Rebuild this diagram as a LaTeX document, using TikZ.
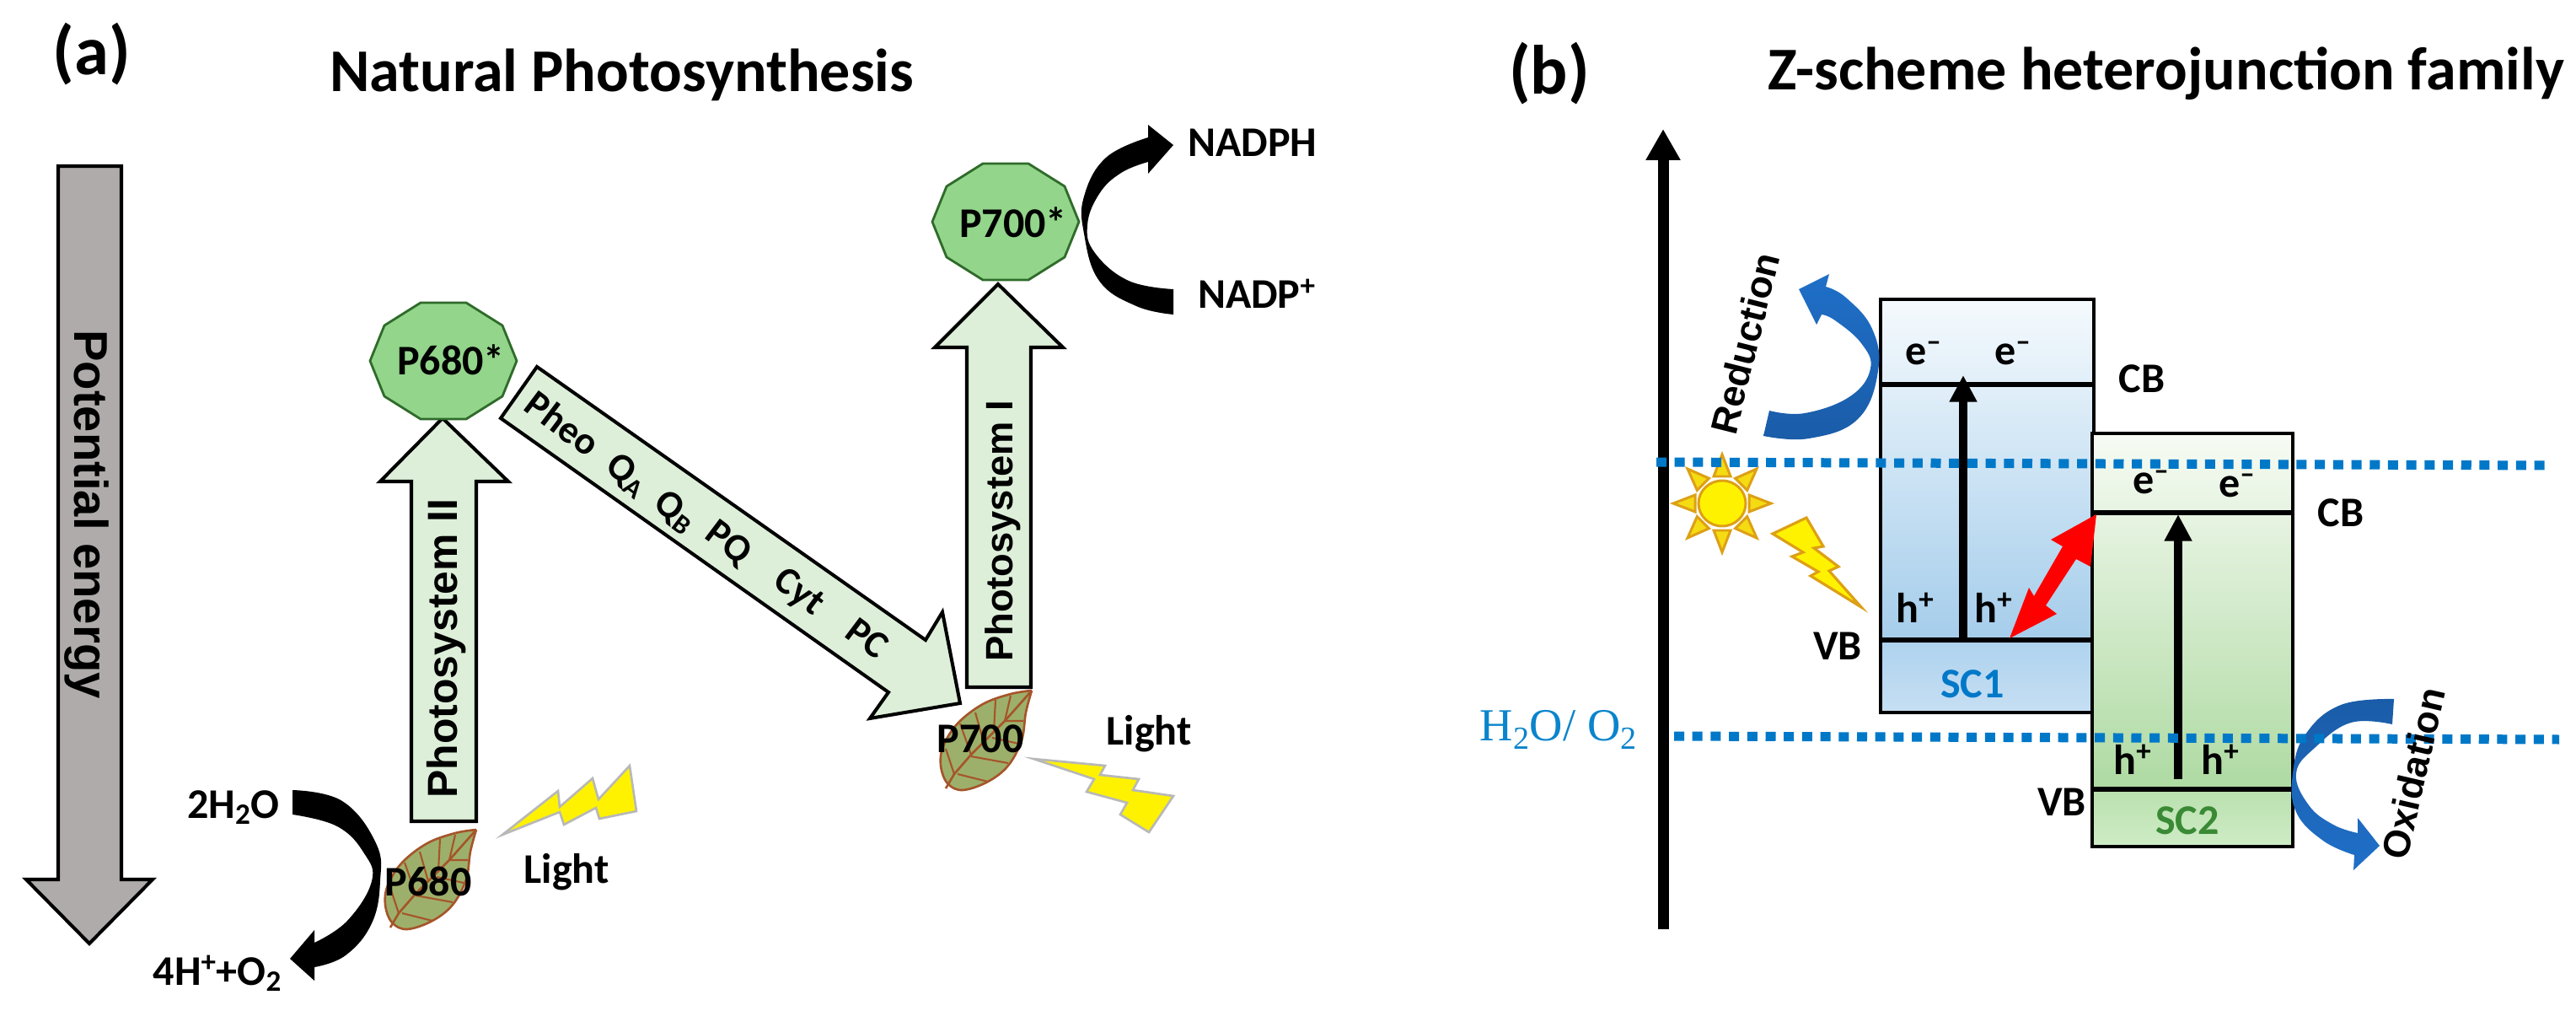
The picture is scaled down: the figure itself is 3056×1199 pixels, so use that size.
\documentclass[tikz,border=0pt]{standalone}
\usepackage{fontspec}
\setmainfont{Carlito}
\newfontfamily\arialf{Liberation Sans}
\newfontfamily\timesf{Liberation Serif}
\usetikzlibrary{arrows.meta}
\definecolor{greyarrow}{HTML}{AFABAB}
\definecolor{palegreen}{HTML}{DDEFD9}
\definecolor{decafill}{HTML}{93D58B}
\definecolor{decaline}{HTML}{2F6B2A}
\definecolor{leaffill}{HTML}{9DB06B}
\definecolor{leafline}{HTML}{A5552A}
\definecolor{boltgrey}{HTML}{B8B8B8}
\definecolor{sunline}{HTML}{DDA015}
\definecolor{dotblue}{HTML}{0078C8}
\definecolor{textblue}{HTML}{0A84CC}
\definecolor{sctwo}{HTML}{3A8A35}
\definecolor{blueup}{HTML}{1F6FC8}
\definecolor{bluedn}{HTML}{1A5CA8}
\newcommand\cfont[1]{\fontsize{#1}{#1}\selectfont}
\newcommand\decagon[2]{\begin{scope}[shift={(#1,#2)}]
  \draw[decastyle] (87,0)--(70,42)--(27,69)--(-27,69)--(-70,42)--(-87,0)--(-70,-42)--(-27,-69)--(27,-69)--(70,-42)--cycle;
\end{scope}}
\newcommand\leafshape[2]{\begin{scope}[shift={(#1,#2)}]
  \fill[leaffill] plot[smooth,tension=.6] coordinates {(565,984)(540,988)(507,1000)(477,1023)(460,1050)(457,1073)(465,1094)(483,1102)(513,1092)(537,1073)(553,1043)(558,1010)(565,984)};
  \draw[leafline,line width=1.5pt] plot[smooth,tension=.6] coordinates {(565,984)(540,988)(507,1000)(477,1023)(460,1050)(457,1073)(465,1094)(483,1102)(513,1092)(537,1073)(553,1043)(558,1010)(565,984)};
  \draw[leafline,line width=1.5pt] (565,984)--(533,1020)--(493,1060)--(473,1083)--(463,1100);
  \draw[leafline,line width=1.2pt] (533,1020)--(540,990) (520,1033)--(522,995) (508,1045)--(498,1010) (493,1060)--(480,1023)
     (473,1083)--(463,1053) (533,1020)--(555,1020) (518,1040)--(550,1047) (493,1062)--(537,1070) (477,1083)--(513,1092);
\end{scope}}
\tikzset{
  x=0.02cm,y=-0.02cm,
  lab/.style={inner sep=0,outer sep=0,anchor=base,font=\cfont{28.5}\bfseries},
  heading/.style={inner sep=0,outer sep=0,anchor=base west,font=\cfont{41}\bfseries},
  panel/.style={inner sep=0,outer sep=0,font=\cfont{47}\bfseries},
  rotlab/.style={inner sep=0,outer sep=0,anchor=base,font=\arialf\bfseries\cfont{28.4}},
  diag/.style={inner sep=0,outer sep=0,rotate=-37,font=\cfont{26}\bfseries},
  blockgreen/.style={draw=black,fill=palegreen,line width=2.3pt,miter limit=10},
  blockgrey/.style={draw=black,fill=greyarrow,line width=2.3pt,miter limit=10},
  decastyle/.style={draw=decaline,fill=decafill,line width=1.6pt,line join=round},
  boltA/.style={draw=boltgrey,fill=yellow,line width=1.5pt},
  boltB/.style={draw=sunline,fill=yellow,line width=1.8pt},
  bandline/.style={line width=2.4pt,draw=black},
  levelline/.style={line width=3pt,draw=black},
  excite/.style={line width=5.7pt,-{Triangle[length=18pt,width=17.6pt]}},
  dots/.style={dotblue,line width=6.26pt,dash pattern=on 6.83pt off 5.52pt},
  ray/.style={draw=sunline,fill=yellow!70!sunline,line width=1.7pt,line join=miter},
  cres/.style={smooth,tension=.7},
}
\begin{document}
\begin{tikzpicture}
\useasboundingbox (0,0) rectangle (3056,1199);
\fill[white] (0,0) rectangle (3056,1199);

% ---------- panel (a)
\node[panel] (pa) at (109,64) {(a)};
\node[heading] (ta) at (391,109) {Natural Photosynthesis};

\draw[blockgrey] (69,197)--(144,197)--(144,1043)--(181,1043)--(106,1119)--(31,1043)--(69,1043)--cycle;
\node[rotlab,rotate=-90,font=\arialf\bfseries\cfont{32}] (pe) at (88,610) {Potential energy};

\draw[blockgreen] (488,974)--(488,571)--(451,571)--(525,496)--(603,571)--(565,571)--(565,974)--cycle;
\node[rotlab,rotate=90] (ps2) at (542,769) {Photosystem II};
\decagon{526}{428}
\node[lab] (p680s) at (535,444) {P680*};

\draw[blockgreen] (1147,815)--(1147,412)--(1109,412)--(1184,337)--(1261,412)--(1223,412)--(1223,815)--cycle;
\node[rotlab,rotate=90,font=\arialf\bfseries\cfont{25.8}] (ps1) at (1201,630) {Photosystem I};
\decagon{1193}{263}
\node[lab] (p700s) at (1202,282) {P700*};

\draw[blockgreen] (637,435)--(1098,759)--(1118,726)--(1139,834)--(1032,852)--(1054,821)--(594,496)--cycle;
\node[diag] (d1) at (668,502) {Pheo};
\node[diag] (d2) at (744,564) {Q\textsubscript{A}};
\node[diag] (d3) at (801,607) {Q\textsubscript{B}};
\node[diag] (d4) at (864,645) {PQ};
\node[diag] (d5) at (947,703) {Cyt};
\node[diag] (d6) at (1029,757) {PC};

\leafshape{0}{0}
\node[lab] (p680) at (508,1062) {P680};
\leafshape{659}{-165}
\node[lab] (p700) at (1163,892) {P700};

\draw[boltA] (596,990)--(662,938)--(664,957)--(703,923)--(710,948)--(747,908)--(755,962)--(711,971)--(707,958)--(669,978)--(664,963)--cycle;
\draw[boltA] (1226,900)--(1311,908)--(1305,919)--(1351,924)--(1344,937)--(1392,944)--(1363,987)--(1329,966)--(1337,952)--(1289,939)--(1298,924)--cycle;

\node[lab] (light1) at (672,1047) {Light};
\node[lab] (light2) at (1363,883) {Light};
\node[lab] (h2o) at (277,970) {2H\textsubscript{2}O};
\node[lab] (hplus) at (258,1168) {4H\textsuperscript{+}+O\textsubscript{2}};
\node[lab] (nadph) at (1486,186) {NADPH};
\node[lab] (nadp) at (1491,366) {NADP\textsuperscript{+}};

% black curved arrows
\fill[black] plot[cres] coordinates {(347,937)(406,950)(446,1000)(451,1045)(441,1095)(410,1133)(373,1147)}
   -- (373,1163) -- (344,1137) -- (373,1103)
   -- plot[cres] coordinates {(373,1118)(412,1092)(441,1045)(432,1012)(400,980)(347,966)} -- cycle;
\fill[black] plot[cres] coordinates {(1392,373)(1348,363)(1304,333)(1286,277)(1286,233)(1312,187)(1362,163)}
   -- (1362,148) -- (1392,172) -- (1362,206)
   -- plot[cres] coordinates {(1362,192)(1330,205)(1304,230)(1290,267)(1299,300)(1339,333)(1392,343)} -- cycle;

% ---------- panel (b)
\node[panel] (pb) at (1838,87) {(b)};
\node[heading] (tb) at (2097,107) {Z-scheme heterojunction family};

\coordinate (axisb) at (1973,1102);
\coordinate (axist) at (1973,153);
\draw[line width=7.4pt,-{Triangle[length=21pt,width=22pt]}] (axisb)--(axist);

% sun
\begin{scope}[shift={(2043,597)}]
  \foreach \a in {0,45,...,315}{
    \draw[ray,rotate=\a] (32,-10)--(58,0)--(32,10)--cycle;
  }
  \draw[draw=sunline,fill=yellow,line width=1.7pt] (0,0) ellipse (28 and 27);
\end{scope}
\draw[boltB] (2103,633)--(2143,614)--(2163,648)--(2152,650)--(2181,672)--(2170,677)--(2208,720)--(2148,683)--(2157,678)--(2126,660)--(2139,655)--cycle;

% SC1 box
\coordinate (s1tl) at (2231,355); \coordinate (s1br) at (2484,845);
\shade[top color={rgb,255:red,245;green,250;blue,253},bottom color={rgb,255:red,165;green,205;blue,235}] (2231,355) rectangle (2484,759);
\shade[top color={rgb,255:red,174;green,210;blue,238},bottom color={rgb,255:red,198;green,223;blue,243}] (2231,759) rectangle (2484,845);
\draw[bandline] (s1tl) rectangle (s1br);
\draw[levelline] (2231,456)--(2484,456);
\draw[levelline] (2231,759)--(2484,759);
\coordinate (s1a) at (2329,759); \coordinate (s1b) at (2329,445);
\draw[excite] (s1a)--(s1b);

% SC2 box
\coordinate (s2tl) at (2482,514); \coordinate (s2br) at (2720,1004);
\shade[top color={rgb,255:red,247;green,251;blue,244},bottom color={rgb,255:red,174;green,218;blue,162}] (2482,514) rectangle (2720,936);
\shade[top color={rgb,255:red,185;green,224;blue,174},bottom color={rgb,255:red,207;green,236;blue,198}] (2482,936) rectangle (2720,1004);
\draw[bandline] (s2tl) rectangle (s2br);
\draw[levelline] (2482,608)--(2720,608);
\draw[levelline] (2482,936)--(2720,936);
\coordinate (s2a) at (2584,924); \coordinate (s2b) at (2584,610);
\draw[excite] (s2a)--(s2b);

% blue curved arrows
\shade[top color=blueup,bottom color=bluedn]
  plot[cres] coordinates {(2092,517)(2146,520)(2204,497)(2228,440)(2221,390)(2190,353)(2166,340)}
  -- (2170,325) -- (2134,343) -- (2155,385)
  -- plot[cres] coordinates {(2161,373)(2177,380)(2208,407)(2219,437)(2195,470)(2141,490)(2099,487)} -- cycle;
\shade[top color=bluedn,bottom color=blueup]
  plot[cres] coordinates {(2840,829)(2777,836)(2735,871)(2720,917)(2724,963)(2756,997)(2793,1014)}
  -- (2792,1032) -- (2823,1003) -- (2797,970)
  -- plot[cres] coordinates {(2797,988)(2768,978)(2739,955)(2724,917)(2747,886)(2789,857)(2838,859)} -- cycle;

% dotted levels
\coordinate (d1a) at (1965,548); \coordinate (d1b) at (3028,552);
\coordinate (d2a) at (1986,873); \coordinate (d2b) at (3036,877);
\draw[dots] (d1a)--(d1b);
\draw[dots] (d2a)--(d2b);

% band labels (set before the red arrow, which overlaps the second h+)
\node[lab,anchor=center] (e1) at (2282,419) {e\textsuperscript{--}};
\node[lab,anchor=center] (e2) at (2388,419) {e\textsuperscript{--}};
\node[lab,anchor=center] (e3) at (2552,572) {e\textsuperscript{--}};
\node[lab,anchor=center] (e4) at (2654,576) {e\textsuperscript{--}};
\node[lab] (h1) at (2272,738) {h\textsuperscript{+}};
\node[lab] (h2) at (2365,738) {h\textsuperscript{+}};
\node[lab] (h3) at (2530,918) {h\textsuperscript{+}};
\node[lab] (h4) at (2634,918) {h\textsuperscript{+}};

% red double arrow
\fill[red] (2487,610)--(2480,672)--(2463,663)--(2427,718)--(2440,728)--(2384,757)--(2407,697)--(2413,707)--(2447,648)--(2433,640)--cycle;

\node[lab] (cb1) at (2541,465) {CB};
\node[lab] (cb2) at (2777,624) {CB};
\node[lab] (vb1) at (2180,782) {VB};
\node[lab] (vb2) at (2446,967) {VB};
\node[lab,text=dotblue] (sc1) at (2340,827) {SC1};
\node[lab,text=sctwo] (sc2) at (2595,989) {SC2};
\node[inner sep=0,anchor=base,text=textblue,font=\timesf\cfont{31}] (redox) at (1849,878) {H\textsubscript{2}O/ O\textsubscript{2}};
\node[inner sep=0,rotate=76,font=\arialf\bfseries\cfont{25.5}] (reduction) at (2070,407) {Reduction};
\node[inner sep=0,rotate=77,font=\arialf\bfseries\cfont{25.5}] (oxidation) at (2863,917) {Oxidation};
\end{tikzpicture}
\end{document}
